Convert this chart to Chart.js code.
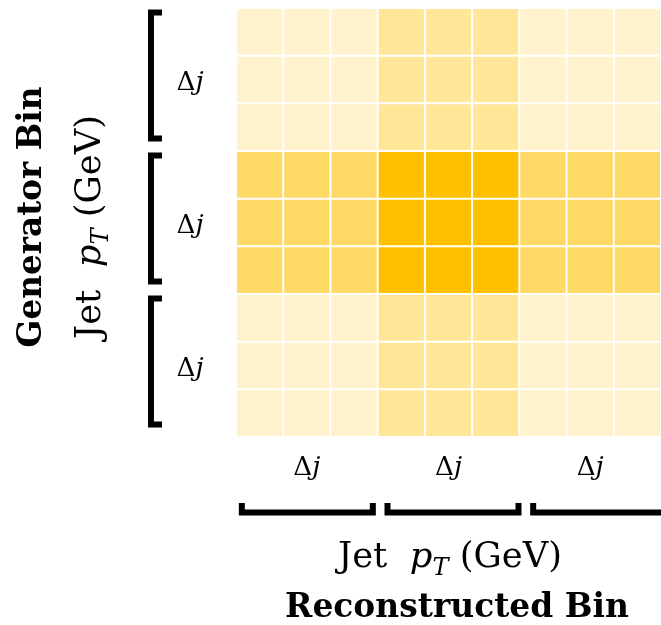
<!DOCTYPE html>
<html lang="en">
<head>
  <meta charset="UTF-8" />
  <title>Migration matrix</title>
  <script src="https://cdn.jsdelivr.net/npm/chart.js@4.4.1/dist/chart.umd.min.js"></script>
  <style>
    body { margin: 0; background: #fff; }
  </style>
</head>
<body>
<canvas id="matrix" width="661" height="625"></canvas>
<script>
    // reconstructed bins (columns) and generator bins (rows, top to bottom)
    const recoBins = ["r1", "r2", "r3", "r4", "r5", "r6", "r7", "r8", "r9"];
    const genBins = ["g1", "g2", "g3", "g4", "g5", "g6", "g7", "g8", "g9"];

    // shade level of each cell, 0 = lightest
    const outerRow = [0, 0, 0, 1, 1, 1, 0, 0, 0];
    const centreRow = [2, 2, 2, 3, 3, 3, 2, 2, 2];
    const migration = [
      outerRow, outerRow, outerRow,
      centreRow, centreRow, centreRow,
      outerRow, outerRow, outerRow,
    ];
    const shades = ["#FFF2CC", "#FFE699", "#FFD966", "#FFC000"];

    const groupSize = 3;
    const groupLabel = "\u0394j";
    const genTitle = "Generator Bin";
    const recoTitle = "Reconstructed Bin";

    const serif = "'DejaVu Serif', 'Liberation Serif', serif";

    const datasets = genBins.map((name, row) => ({
      label: name,
      data: recoBins.map(() => [row, row + 1]),
      backgroundColor: migration[row].map((lvl) => shades[lvl]),
      borderColor: "#ffffff",
      borderWidth: 1.3,
      borderSkipped: false,
      grouped: false,
      barPercentage: 1,
      categoryPercentage: 1,
    }));

    // text made of runs: {t, italic, bold, sub}
    function fontFor(r, size) {
      const s = r.sub ? size * 0.68 : size;
      return (r.italic ? "italic " : "") + (r.bold ? "bold " : "") + s + "px " + serif;
    }
    function runWidth(ctx, runs, size) {
      let w = 0;
      for (const r of runs) {
        ctx.font = fontFor(r, size);
        w += ctx.measureText(r.t).width;
      }
      return w;
    }
    function drawRuns(ctx, runs, size, cx, baseline) {
      let x = cx - runWidth(ctx, runs, size) / 2;
      ctx.textAlign = "left";
      ctx.textBaseline = "alphabetic";
      for (const r of runs) {
        ctx.font = fontFor(r, size);
        ctx.fillText(r.t, x, baseline + (r.sub ? size * 0.22 : 0));
        x += ctx.measureText(r.t).width;
      }
    }
    function fitSize(ctx, runs, target) {
      return 40 * target / runWidth(ctx, runs, 40);
    }

    const ptRuns = [{ t: "Jet  " }, { t: "p", italic: true }, { t: "T", italic: true, sub: true }, { t: " (GeV)" }];
    const deltaRuns = [{ t: groupLabel.charAt(0) }, { t: groupLabel.charAt(1), italic: true }];

    const bracketPlugin = {
      id: "groupBrackets",
      afterDraw(chart) {
        const { ctx, chartArea: a, scales: { x, y } } = chart;
        const cellW = (x.right - x.left) / recoBins.length;
        const groups = recoBins.length / groupSize;
        ctx.save();
        ctx.fillStyle = "#000";
        ctx.strokeStyle = "#000";
        ctx.lineWidth = 6;
        ctx.lineJoin = "miter";
        const dSize = fitSize(ctx, deltaRuns, 27);

        for (let g = 0; g < groups; g++) {
          // left side, generator groups
          const top = y.getPixelForValue(g * groupSize);
          const bot = y.getPixelForValue((g + 1) * groupSize);
          const mid = (top + bot) / 2 - 4;
          const bx = a.left - 85;
          ctx.beginPath();
          ctx.moveTo(bx + 11, mid - 63);
          ctx.lineTo(bx, mid - 63);
          ctx.lineTo(bx, mid + 63);
          ctx.lineTo(bx + 11, mid + 63);
          ctx.stroke();
          drawRuns(ctx, deltaRuns, dSize, a.left - 46, (top + bot) / 2 + 10);

          // bottom, reconstructed groups (brackets spread slightly wider than the cells)
          const left = x.getPixelForValue(g * groupSize) - cellW / 2;
          const right = x.getPixelForValue((g + 1) * groupSize - 1) + cellW / 2;
          const c = (left + right) / 2 + 0.5 + g * 4;
          const by = a.bottom + 75.5;
          ctx.beginPath();
          ctx.moveTo(c - 65.5, by - 9.5);
          ctx.lineTo(c - 65.5, by);
          ctx.lineTo(c + 65.5, by);
          ctx.lineTo(c + 65.5, by - 9.5);
          ctx.stroke();
          drawRuns(ctx, deltaRuns, dSize, (left + right) / 2, a.bottom + 38);
        }

        // axis titles
        const ptSize = fitSize(ctx, ptRuns, 224);
        const genRuns = [{ t: genTitle, bold: true }];
        const recoRuns = [{ t: recoTitle, bold: true }];
        drawRuns(ctx, ptRuns, ptSize, 450, a.bottom + 130);
        drawRuns(ctx, recoRuns, fitSize(ctx, recoRuns, 344), 457, a.bottom + 180);

        ctx.save();
        ctx.translate(100, 227);
        ctx.rotate(-Math.PI / 2);
        drawRuns(ctx, ptRuns, ptSize, 0, 0);
        ctx.restore();
        ctx.save();
        ctx.translate(41, 217);
        ctx.rotate(-Math.PI / 2);
        drawRuns(ctx, genRuns, fitSize(ctx, genRuns, 261), 0, 0);
        ctx.restore();
        ctx.restore();
      },
    };

    new Chart(document.getElementById("matrix"), {
      type: "bar",
      data: { labels: recoBins, datasets: datasets },
      options: {
        responsive: false,
        animation: false,
        layout: { padding: { left: 236, top: 8, right: 0, bottom: 188 } },
        scales: {
          x: { display: false },
          y: { display: false, min: 0, max: genBins.length, reverse: true },
        },
        plugins: {
          legend: { display: false },
          tooltip: { enabled: false },
        },
      },
      plugins: [bracketPlugin],
    });
</script>
</body>
</html>
